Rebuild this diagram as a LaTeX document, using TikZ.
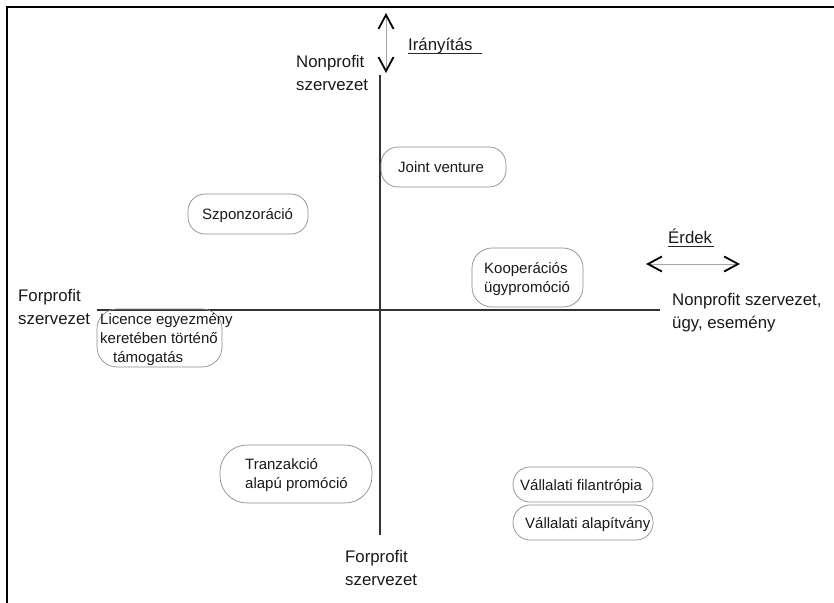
\documentclass[tikz,border=0pt]{standalone}
\usepackage{fontspec}
\setmainfont{Liberation Sans}
\usetikzlibrary{arrows.meta}
\begin{document}
\begin{tikzpicture}[x=1pt,y=-1pt,
  lab/.style={font=\fontsize{16.8}{22.8}\selectfont, inner sep=0pt, align=left, anchor=base west, text=black!90},
  btxt/.style={font=\fontsize{15}{19}\selectfont, inner sep=0pt, align=left, anchor=base west, text=black!90},
  box/.style={draw=black!45, line width=0.7pt, rounded corners=17pt, inner sep=0pt},
  axisline/.style={line width=2.8pt, draw=black!80},
  uline/.style={line width=0.9pt, draw=black!85},
  dbl/.style={draw=black!35, line width=0.8pt,
    {Straight Barb[length=14pt,width=15pt,line width=1.8pt,color=black]}-{Straight Barb[length=14pt,width=15pt,line width=1.8pt,color=black]}}
]
\useasboundingbox (0,0) rectangle (834,602);
% frame
\draw[line width=2.6pt] (7,603) -- (7,7) -- (835,7);

% axes
\coordinate (vT) at (380,75);
\coordinate (vB) at (380,535);
\coordinate (hL) at (97,310);
\coordinate (hR) at (660,310);
\draw[axisline] (vT) -- (vB);
\draw[axisline] (hL) -- (hR);

% direction arrows
\coordinate (irT) at (386,13);
\coordinate (irB) at (386,73);
\draw[dbl] (irT) -- (irB);
\coordinate (erL) at (646,264);
\coordinate (erR) at (740,264);
\draw[dbl] (erL) -- (erR);

% axis labels (multi-line nodes: base = last line)
\node[lab] (ir) at (408,50) {Irányítás};
\draw[uline] ([yshift=-3pt]ir.base west) -- ++(74,0);
\node[lab] (er) at (668,243) {Érdek};
\draw[uline] ([yshift=-3pt]er.base west) -- ++(46,0);
\node[lab] (np) at (296,90) {Nonprofit\\szervezet};
\node[lab] (fpL) at (18,324) {Forprofit\\szervezet};
\node[lab] (npR) at (672,328) {Nonprofit szervezet,\\ügy, esemény};
\node[lab] (fpB) at (345,585) {Forprofit\\szervezet};

% boxes
\node[box, minimum width=125pt, minimum height=40pt] (bJV) at (443.5,167) {};
\node[box, minimum width=120pt, minimum height=40pt] (bSz) at (248,214) {};
\node[box, minimum width=111pt, minimum height=59pt, rounded corners=20pt] (bKo) at (527.5,277.5) {};
\node[box, minimum width=125pt, minimum height=58pt, rounded corners=20pt] (bLi) at (159.5,338) {};
\node[box, minimum width=152pt, minimum height=58pt, rounded corners=27pt] (bTr) at (296,474) {};
\node[box, minimum width=140pt, minimum height=35pt] (bVF) at (583,484.5) {};
\node[box, minimum width=140pt, minimum height=35pt] (bVA) at (583,522.5) {};

% box texts
\node[btxt] (tJV) at (398,172) {Joint venture};
\node[btxt] (tSz) at (202,219) {Szponzoráció};
\node[btxt] (tKo) at (484,292) {Kooperációs\\ügypromóció};
\node[btxt] (tLi) at (100,362) {Licence egyezmény\\keretében történő\\\hspace*{13pt}támogatás};
\node[btxt] (tTr) at (245,488) {Tranzakció\\alapú promóció};
\node[btxt] (tVF) at (520,490) {Vállalati filantrópia};
\node[btxt] (tVA) at (525,528) {Vállalati alapítvány};
\end{tikzpicture}
\end{document}
